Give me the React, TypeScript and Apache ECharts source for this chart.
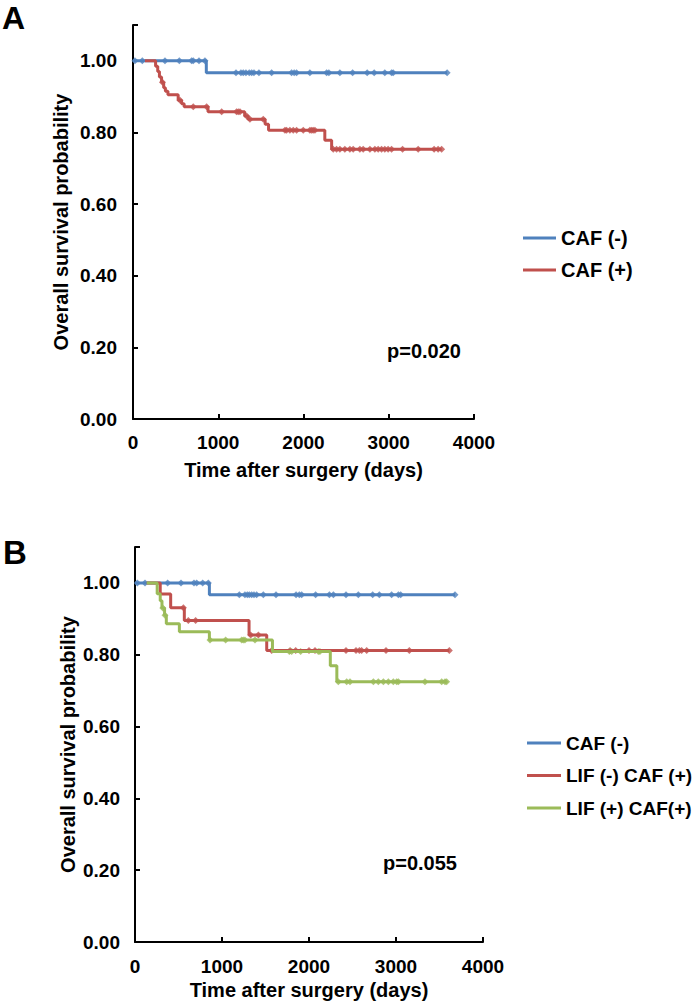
import React, { useEffect, useRef } from "react";
import * as echarts from "echarts";

// ---------- Data ----------
// Kaplan–Meier steps: [time (days), survival] ; last point = end of follow-up
const A_CAF_NEG_STEPS: number[][] = [[0, 1], [860, 0.967], [3685, 0.967]];
const A_CAF_NEG_CENSOR: number[] = [
  23, 109, 375, 543, 688, 707, 774, 844, 1208, 1266, 1293, 1325, 1364, 1392, 1419, 1477,
  1626, 1860, 1891, 1919, 2075, 2271, 2298, 2427, 2576, 2747, 2829, 2954, 3033, 3052, 3685,
];
const A_CAF_POS_STEPS: number[][] = [
  [140, 1], [265, 0.985], [290, 0.97], [310, 0.955], [335, 0.94], [360, 0.925], [380, 0.915],
  [410, 0.905], [530, 0.89], [570, 0.88], [600, 0.872], [880, 0.858], [1310, 0.846],
  [1350, 0.837], [1550, 0.823], [1590, 0.806], [2250, 0.778], [2330, 0.753], [3620, 0.753],
];
const A_CAF_POS_CENSOR: number[] = [
  345, 551, 707, 864, 1040, 1215, 1235, 1255, 1333, 1372, 1528, 1782, 1801, 1840, 1880, 1919,
  1997, 2075, 2095, 2114, 2134, 2349, 2388, 2427, 2485, 2544, 2583, 2661, 2700, 2779, 2837,
  2876, 2916, 2954, 2993, 3033, 3162, 3345, 3532, 3579, 3620,
];

const B_CAF_NEG_STEPS: number[][] = [[0, 1], [855, 0.967], [3678, 0.967]];
const B_CAF_NEG_CENSOR: number[] = [
  27, 115, 375, 529, 678, 709, 778, 843, 1199, 1264, 1291, 1314, 1341, 1368, 1398, 1475,
  1621, 1851, 1889, 1916, 2076, 2234, 2280, 2425, 2567, 2732, 2808, 2950, 3027, 3054, 3678,
];
const B_LIFNEG_STEPS: number[][] = [
  [135, 1], [290, 0.969], [410, 0.931], [567, 0.895], [1311, 0.855], [1514, 0.812], [3613, 0.812],
];
const B_LIFNEG_CENSOR: number[] = [
  556, 613, 697, 1330, 1418, 1571, 1782, 1847, 2000, 2069, 2425, 2540, 2579, 2605, 2663,
  2885, 3153, 3613,
];
const B_LIFPOS_STEPS: number[][] = [
  [135, 1], [255, 0.97], [290, 0.95], [310, 0.93], [340, 0.91], [360, 0.886], [510, 0.864],
  [855, 0.841], [1580, 0.809], [2245, 0.769], [2320, 0.725], [3582, 0.725],
];
const B_LIFPOS_CENSOR: number[] = [
  320, 345, 862, 1042, 1226, 1245, 1264, 1379, 1774, 1801, 1904, 2107, 2126, 2337, 2433,
  2471, 2740, 2797, 2855, 2912, 2969, 3008, 3027, 3333, 3525, 3563, 3582,
];

const X_TICKS = [0, 1000, 2000, 3000, 4000];
const Y_TICKS = [0, 0.2, 0.4, 0.6, 0.8, 1.0];
const NAMES_A = ["CAF (-)", "CAF (+)"];
const NAMES_B = ["CAF (-)", "LIF (-) CAF (+)", "LIF (+) CAF(+)"];
const P_A = "p=0.020";
const P_B = "p=0.055";

// ---------- Styling ----------
const BLUE = "#4F81BD";
const RED = "#C0504D";
const GREEN = "#9BBB59";
const FONT = "Arial, 'Liberation Sans', sans-serif";

function survivalAt(steps: number[][], t: number): number {
  let s = steps[0][1];
  for (const [time, val] of steps) {
    if (time <= t) s = val;
  }
  return s;
}

function curveSeries(name: string, steps: number[][], censor: number[], color: string, idx: number) {
  return [
    {
      name,
      type: "line",
      xAxisIndex: idx,
      yAxisIndex: idx,
      data: steps,
      step: "end",
      showSymbol: false,
      lineStyle: { color, width: 3 },
      itemStyle: { color },
      silent: true,
    },
    {
      name,
      type: "scatter",
      xAxisIndex: idx,
      yAxisIndex: idx,
      data: censor.map((t) => [t, survivalAt(steps, t)]),
      symbol: "diamond",
      symbolSize: 7,
      itemStyle: { color },
      silent: true,
    },
  ];
}

function xAxis(idx: number, nameGap: number, margin: number) {
  return {
    type: "value",
    gridIndex: idx,
    min: X_TICKS[0],
    max: X_TICKS[X_TICKS.length - 1],
    interval: 1000,
    name: "Time after surgery (days)",
    nameLocation: "middle",
    nameGap,
    nameTextStyle: { fontFamily: FONT, fontWeight: "bold", fontSize: 20, color: "#000" },
    axisLine: { lineStyle: { color: "#000", width: 2 } },
    axisTick: { inside: true, length: 5, lineStyle: { color: "#000", width: 2 } },
    axisLabel: {
      margin,
      fontFamily: FONT,
      fontWeight: "bold",
      fontSize: 19,
      color: "#000",
      formatter: (v: number) => String(v),
    },
    splitLine: { show: false },
  };
}

function yAxis(idx: number, nameGap: number, margin: number) {
  return {
    type: "value",
    gridIndex: idx,
    min: Y_TICKS[0],
    max: 1.1,
    interval: 0.2,
    name: "Overall survival probability",
    nameLocation: "middle",
    nameGap,
    nameRotate: 90,
    nameTextStyle: { fontFamily: FONT, fontWeight: "bold", fontSize: 20, color: "#000" },
    axisLine: { show: true, lineStyle: { color: "#000", width: 2 } },
    axisTick: { show: true, inside: true, length: 5, lineStyle: { color: "#000", width: 2 } },
    axisLabel: {
      margin,
      fontFamily: FONT,
      fontWeight: "bold",
      fontSize: 19,
      color: "#000",
      formatter: (v: number) => (v > 1.05 ? "" : v.toFixed(2)),
    },
    splitLine: { show: false },
  };
}

export default function App() {
  const ref = useRef<HTMLDivElement>(null);
  useEffect(() => {
    document.body.style.margin = "0";
    const chart = echarts.init(ref.current!, undefined, { renderer: "svg" });
    const legendText = { fontFamily: FONT, fontWeight: "bold", fontSize: 20, color: "#000", lineHeight: 20 };
    chart.setOption({
      animation: false,
      backgroundColor: "#fff",
      grid: [
        { left: 133, top: 25, width: 341, height: 394 },
        { left: 135, top: 547, width: 348, height: 395 },
      ],
      xAxis: [xAxis(0, 41, 14), xAxis(1, 38, 15)],
      yAxis: [yAxis(0, 62, 16), yAxis(1, 57, 15)],
      legend: [
        {
          data: NAMES_A,
          orient: "vertical",
          left: 523,
          top: 228,
          padding: 0,
          icon: "rect",
          itemWidth: 33,
          itemHeight: 3,
          itemGap: 12,
          textStyle: legendText,
          selectedMode: false,
        },
        {
          data: NAMES_B,
          orient: "vertical",
          left: 527,
          top: 733,
          padding: 0,
          icon: "rect",
          itemWidth: 34,
          itemHeight: 3,
          itemGap: 12.5,
          textStyle: { ...legendText, fontSize: 19 },
          selectedMode: false,
        },
      ],
      graphic: [
        {
          type: "text",
          left: 2,
          top: 2,
          style: { text: "A", font: `bold 32px ${FONT}`, fill: "#000" },
        },
        {
          type: "text",
          left: 3,
          top: 536,
          style: { text: "B", font: `bold 33px ${FONT}`, fill: "#000" },
        },
        {
          type: "text",
          x: 461,
          y: 351,
          style: { text: P_A, font: `bold 20px ${FONT}`, fill: "#000", align: "right", verticalAlign: "middle" },
        },
        {
          type: "text",
          x: 457,
          y: 863,
          style: { text: P_B, font: `bold 20px ${FONT}`, fill: "#000", align: "right", verticalAlign: "middle" },
        },
      ],
      series: [
        ...curveSeries(NAMES_A[0], A_CAF_NEG_STEPS, A_CAF_NEG_CENSOR, BLUE, 0),
        ...curveSeries(NAMES_A[1], A_CAF_POS_STEPS, A_CAF_POS_CENSOR, RED, 0),
        ...curveSeries(NAMES_B[0], B_CAF_NEG_STEPS, B_CAF_NEG_CENSOR, BLUE, 1),
        ...curveSeries(NAMES_B[1], B_LIFNEG_STEPS, B_LIFNEG_CENSOR, RED, 1),
        ...curveSeries(NAMES_B[2], B_LIFPOS_STEPS, B_LIFPOS_CENSOR, GREEN, 1),
      ],
    });
    return () => chart.dispose();
  }, []);
  return <div ref={ref} style={{ width: 698, height: 1004 }} />;
}
